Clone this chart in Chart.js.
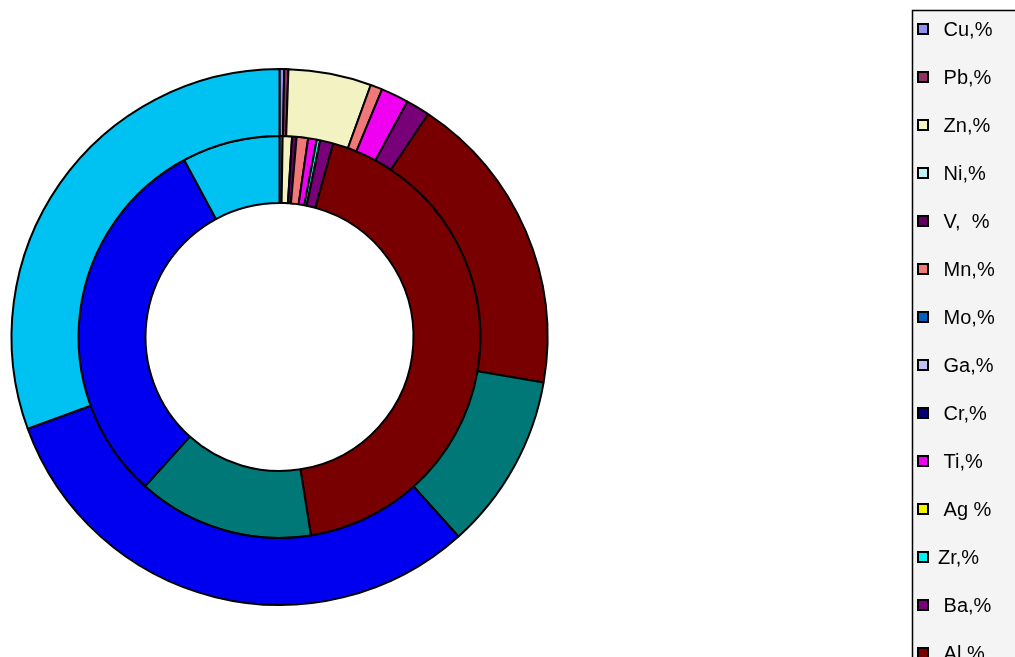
<!DOCTYPE html>
<html>
<head>
<meta charset="utf-8">
<title>Elements doughnut</title>
<script src="https://cdn.jsdelivr.net/npm/chart.js@4/dist/chart.umd.min.js"></script>
<style>
  html, body { margin: 0; padding: 0; background: #fff; overflow: hidden; }
</style>
</head>
<body>
<canvas id="elementsChart" width="1015" height="657"></canvas>
<script>
// legend labels (leading space kept as in the original sheet, Zr has none)
const labels = [' Cu,%', ' Pb,%', ' Zn,%', ' Ni,%', ' V,  %', ' Mn,%', ' Mo,%', ' Ga,%', ' Cr,%',
  ' Ti,%', ' Ag %', 'Zr,%', ' Ba,%', ' Al,%', ' Fe,%', ' Ca,%', ' Si,%'];

const colors = ['#9090F0', '#903060', '#F2F2C2', '#C0F0F0', '#600060', '#F07878', '#0060C0', '#C0C0F0',
  '#000078', '#F000F0', '#F0F000', '#00F0F0', '#780078', '#780000', '#007878', '#0000F0', '#00C2F2'];

// outer ring
const outerValues = [0.28, 0.25, 5.0, 0, 0, 0.72, 0, 0, 0, 1.67, 0, 0, 1.44, 18.36, 10.64, 31.08, 30.56];
// inner ring
const innerValues = [0.25, 0, 0.75, 0, 0.36, 0.92, 0, 0, 0, 0.69, 0, 0.28, 1.06, 43.19, 14.17, 30.47, 7.86];

const legendPanel = {
  id: 'legendPanel',
  afterDraw(chart) {
    const ctx = chart.ctx;
    ctx.save();
    ctx.fillStyle = '#f4f4f4';
    ctx.fillRect(912, 10, 140, 760);
    ctx.strokeStyle = '#000';
    ctx.lineWidth = 1.5;
    ctx.strokeRect(912.5, 10.5, 140, 760);
    ctx.font = '20px "Liberation Sans", Arial, sans-serif';
    ctx.textBaseline = 'middle';
    chart.data.labels.forEach((label, i) => {
      const y = 29 + i * 48;
      ctx.fillStyle = colors[i];
      ctx.fillRect(918, y - 5, 10, 10);
      ctx.lineWidth = 2;
      ctx.strokeRect(918, y - 5, 10, 10);
      ctx.fillStyle = '#000';
      ctx.fillText(label, 938, y + 1);
    });
    ctx.restore();
  }
};

const ctx = document.getElementById('elementsChart').getContext('2d');

const data = {
  labels: labels,
  datasets: [
    {
      data: outerValues,
      backgroundColor: colors,
      borderColor: '#000',
      borderWidth: 2
    },
    {
      data: innerValues,
      backgroundColor: colors,
      borderColor: '#000',
      borderWidth: 2
    }
  ]
};

const config = {
  type: 'doughnut',
  data: data,
  options: {
    responsive: false,
    animation: false,
    events: [],
    radius: 268,
    cutout: '50%',
    layout: {
      padding: { left: 0, right: 456, top: 17, bottom: 0 }
    },
    plugins: {
      legend: { display: false },
      tooltip: { enabled: false }
    }
  },
  plugins: [legendPanel]
};

const myChart = new Chart(ctx, config);
</script>
</body>
</html>
